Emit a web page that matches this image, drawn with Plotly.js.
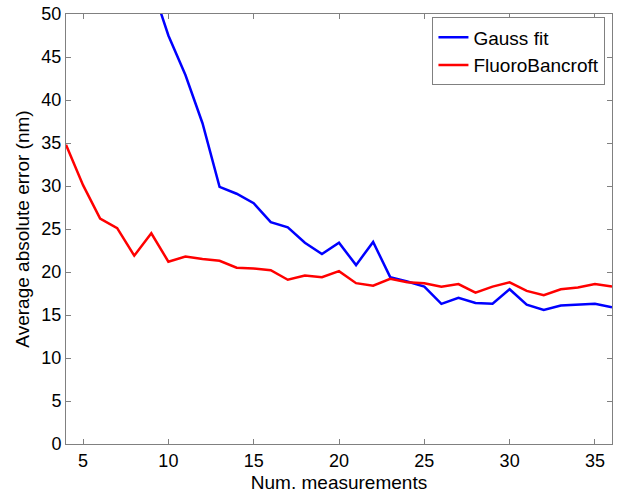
<!DOCTYPE html>
<html>
<head>
<meta charset="utf-8">
<script src="https://cdn.plot.ly/plotly-3.0.1.min.js"></script>
<style>html,body{margin:0;padding:0;background:#fff;}#chart{width:618px;height:497px;}</style>
</head>
<body>
<div id="chart"></div>
<script>
const gaussX = [9, 10, 11, 12, 13, 14, 15, 16, 17, 18, 19, 20, 21, 22, 23, 24, 25, 26, 27, 28, 29, 30, 31, 32, 33, 34, 35, 36];
const gaussY = [53.5, 47.5, 42.9, 37.3, 29.9, 29.1, 28.0, 25.8, 25.2, 23.4, 22.1, 23.4, 20.8, 23.5, 19.4, 18.9, 18.3, 16.3, 17.0, 16.4, 16.3, 18.0, 16.2, 15.6, 16.1, 16.2, 16.3, 15.9];
const fbX = [4, 5, 6, 7, 8, 9, 10, 11, 12, 13, 14, 15, 16, 17, 18, 19, 20, 21, 22, 23, 24, 25, 26, 27, 28, 29, 30, 31, 32, 33, 34, 35, 36];
const fbY = [34.8, 30.1, 26.2, 25.1, 21.9, 24.5, 21.2, 21.8, 21.5, 21.3, 20.5, 20.4, 20.2, 19.1, 19.6, 19.4, 20.1, 18.7, 18.4, 19.2, 18.8, 18.7, 18.3, 18.6, 17.6, 18.3, 18.8, 17.8, 17.3, 18.0, 18.2, 18.6, 18.3];
const xTicks = [5, 10, 15, 20, 25, 30, 35];
const yTicks = [0, 5, 10, 15, 20, 25, 30, 35, 40, 45, 50];
const seriesNames = ['Gauss fit', 'FluoroBancroft'];

const fam = 'Liberation Sans, Arial, Helvetica, sans-serif';
const tickFont = {family: fam, size: 18, color: '#000'};
const titleFont = {family: fam, size: 19, color: '#000'};
const traces = [
  {x: gaussX, y: gaussY, name: seriesNames[0], type: 'scatter', mode: 'lines',
   line: {color: '#0000ff', width: 2.5}},
  {x: fbX, y: fbY, name: seriesNames[1], type: 'scatter', mode: 'lines',
   line: {color: '#ff0000', width: 2.5}}
];
const axisCommon = {
  showgrid: false, zeroline: false, showline: true, mirror: 'ticks',
  linecolor: '#808080', linewidth: 1, ticks: 'inside', ticklen: 5,
  tickcolor: '#808080', tickwidth: 1, tickfont: tickFont
};
const layout = {
  width: 618, height: 497,
  margin: {l: 66, r: 6, t: 14, b: 53},
  paper_bgcolor: '#fff', plot_bgcolor: '#fff',
  font: titleFont,
  showlegend: true,
  legend: {x: 0.988, y: 0.992, xanchor: 'right', yanchor: 'top',
    bgcolor: '#fff', bordercolor: '#808080', borderwidth: 1, font: titleFont},
  xaxis: Object.assign({}, axisCommon, {
    range: [4, 36], tickmode: 'array', tickvals: xTicks, ticktext: xTicks.map(String),
    title: {text: 'Num. measurements', font: titleFont, standoff: 6}
  }),
  yaxis: Object.assign({}, axisCommon, {
    range: [0, 50], tickmode: 'array', tickvals: yTicks, ticktext: yTicks.map(String),
    title: {text: 'Average absolute error (nm)', font: titleFont, standoff: 6}
  })
};
Plotly.newPlot('chart', traces, layout, {staticPlot: true, displayModeBar: false});
</script>
</body>
</html>
